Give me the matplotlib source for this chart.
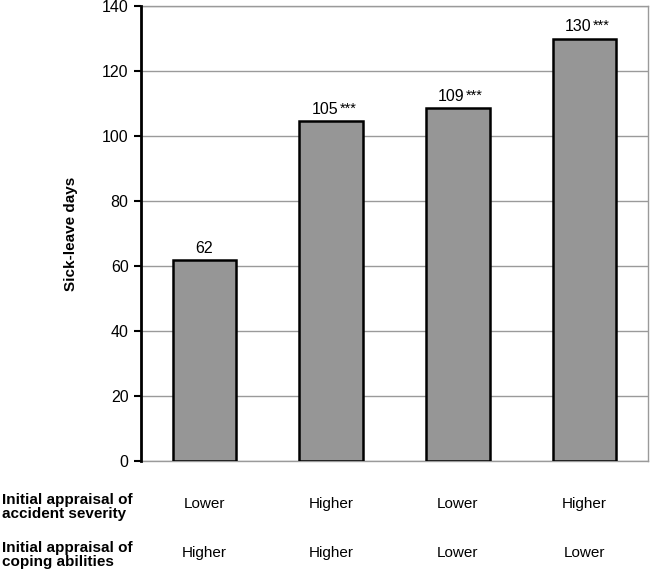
import matplotlib
matplotlib.use("Agg")
import matplotlib.pyplot as plt

plt.rcParams['font.family'] = ['Liberation Sans', 'DejaVu Sans']

severity = ["Lower", "Higher", "Lower", "Higher"]
coping = ["Higher", "Higher", "Lower", "Lower"]
values = [62, 104.5, 108.5, 130]
value_labels = ["62", "105", "109", "130"]
stars = ["", "***", "***", "***"]
yticks = [0, 20, 40, 60, 80, 100, 120, 140]

fig = plt.figure(figsize=(6.5, 5.73), dpi=100)
ax = fig.add_axes([141/650, 1-461/573, (648-141)/650, (461-6)/573])

x = list(range(len(values)))
ax.bar(x, values, width=0.5, color="#969696", edgecolor="black", linewidth=1.8, zorder=3)

ax.set_xlim(-0.5, 3.5)
ax.set_ylim(0, 140)
ax.set_yticks(yticks)
ax.set_xticks([])
ax.yaxis.grid(True, color="#9a9a9a", linewidth=1.0, zorder=0)
ax.set_axisbelow(True)

for side in ["top", "right", "bottom"]:
    ax.spines[side].set_color("#9a9a9a")
    ax.spines[side].set_linewidth(1.0)
ax.spines["left"].set_color("black")
ax.spines["left"].set_linewidth(2.0)
ax.spines["left"].set_zorder(4)
ax.tick_params(axis="y", direction="out", length=5, width=1.5, color="black",
               labelsize=11.5, pad=4)

ax.set_ylabel("Sick-leave days", fontsize=11, fontweight="bold", labelpad=17)

for xi, v, lab, st in zip(x, values, value_labels, stars):
    if st:
        ax.annotate(lab, (xi, v), xytext=(5, 5.5), textcoords="offset points",
                    ha="right", va="baseline", fontsize=11.5)
        ax.annotate(st, (xi, v), xytext=(6, 6.2), textcoords="offset points",
                    ha="left", va="baseline", fontsize=10.5)
    else:
        ax.annotate(lab, (xi, v), xytext=(0, 4.5), textcoords="offset points",
                    ha="center", va="baseline", fontsize=11.5)

# table below the axes
fig.text(2/650, 1-507/573, "Initial appraisal of\naccident severity", fontsize=11,
         fontweight="bold", ha="left", va="center", linespacing=1.05)
fig.text(2/650, 1-555/573, "Initial appraisal of\ncoping abilities", fontsize=11,
         fontweight="bold", ha="left", va="center", linespacing=1.05)
trans = ax.get_xaxis_transform()
for xi, s, c in zip(x, severity, coping):
    ax.text(xi, -43/455, s, transform=trans, ha="center", va="center", fontsize=11)
    ax.text(xi, -92/455, c, transform=trans, ha="center", va="center", fontsize=11)

fig.savefig("out.png", dpi=100)
